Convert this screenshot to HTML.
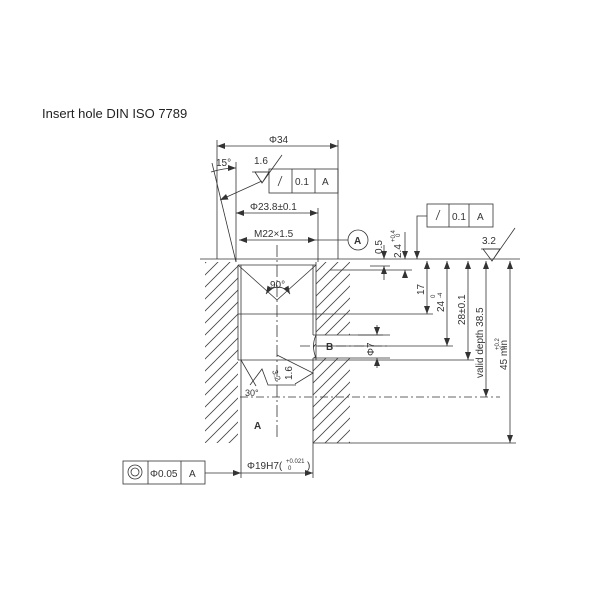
<!DOCTYPE html>
<html><head><style>body{margin:0;background:#fff}svg{display:block}</style></head><body>
<svg width="600" height="600" viewBox="0 0 600 600" xmlns="http://www.w3.org/2000/svg" font-family="Liberation Sans, sans-serif" fill="none" stroke="#333" stroke-width="0.8">
<defs>
<pattern id="h" patternUnits="userSpaceOnUse" width="12" height="12"><path d="M-1,1 L1,-1 M0,12 L12,0 M11,13 L13,11" stroke="#444" stroke-width="0.8"/></pattern>
<marker id="a" markerWidth="8" markerHeight="6" refX="8" refY="3" orient="auto-start-reverse" markerUnits="userSpaceOnUse"><path d="M0,0 L8,3 L0,6z" fill="#333" stroke="none"/></marker>
</defs>
<text x="42" y="118" font-size="13" fill="#222" stroke="none" font-family="Liberation Sans, DejaVu Sans, sans-serif">Insert hole DIN ISO 7789</text>
<path d="M205,262 H238 V443 H205 Z" fill="url(#h)" stroke="none"/>
<path d="M316,262 H350 V335 H313 V358 H350 V443 H313 V360 H316 Z" fill="url(#h)" stroke="none"/>
<line x1="200" y1="259" x2="520" y2="259"/>
<line x1="238" y1="265" x2="316" y2="265"/>
<line x1="238" y1="265" x2="238" y2="360"/><line x1="241" y1="265" x2="241" y2="360"/>
<line x1="316" y1="262" x2="316" y2="360"/><line x1="313" y1="265" x2="313" y2="335"/>
<line x1="238" y1="314" x2="316" y2="314"/>
<line x1="238" y1="360" x2="316" y2="360"/>
<line x1="241" y1="360" x2="241" y2="478"/><line x1="313" y1="358" x2="313" y2="478"/>
<line x1="313" y1="443" x2="350" y2="443"/>
<path d="M238,265 L277,300 L316,265"/>
<path d="M266,294 A14,14 0 0 1 290,294" marker-start="url(#a)" marker-end="url(#a)"/>
<text x="270" y="288" font-size="10" fill="#333" stroke="none">90°</text>
<line x1="313" y1="335" x2="390" y2="335"/><line x1="313" y1="358" x2="390" y2="358"/>
<path d="M316,335 Q311,346 316,358"/>
<line x1="300" y1="346" x2="390" y2="346" stroke-dasharray="10,3,2,3"/>
<text x="326" y="350" font-size="10" font-weight="bold" fill="#333" stroke="none">B</text>
<line x1="277" y1="245" x2="277" y2="440" stroke-dasharray="12,3,2,3"/>
<line x1="240" y1="397" x2="500" y2="397" stroke-dasharray="8,3,2,3"/>
<text x="254" y="429" font-size="10" font-weight="bold" fill="#333" stroke="none">A</text>
<path d="M241,360 L256,386"/>
<path d="M250,385 L262,369 L268,385 L296,385"/>
<path d="M277,355 L313,373 L295,384"/>
<text x="245" y="396" font-size="9" fill="#333" stroke="none">30°</text>
<text transform="translate(292,380) rotate(-90)" font-size="10" fill="#333" stroke="none">1.6</text>
<text transform="translate(272,371) rotate(70)" font-size="8" fill="#333" stroke="none">3.2</text>
<line x1="217" y1="140" x2="217" y2="259"/><line x1="338" y1="140" x2="338" y2="259"/>
<line x1="217" y1="146" x2="338" y2="146" marker-start="url(#a)" marker-end="url(#a)"/>
<text x="269" y="143" font-size="10" fill="#333" stroke="none">Φ34</text>
<line x1="212" y1="163" x2="236" y2="262"/>
<line x1="236" y1="162" x2="236" y2="262"/>
<path d="M211,172 Q224,168 236,168" marker-end="url(#a)"/>
<text x="216" y="166" font-size="10" fill="#333" stroke="none">15°</text>
<line x1="318" y1="208" x2="318" y2="262"/>
<line x1="236" y1="213" x2="318" y2="213" marker-start="url(#a)" marker-end="url(#a)"/>
<text x="250" y="210" font-size="10" fill="#333" stroke="none">Φ23.8±0.1</text>
<line x1="239" y1="240" x2="316" y2="240" marker-start="url(#a)" marker-end="url(#a)"/>
<line x1="316" y1="240" x2="348" y2="240"/>
<text x="254" y="237" font-size="10" fill="#333" stroke="none">M22×1.5</text>
<circle cx="358" cy="240" r="10"/>
<text x="354" y="244" font-size="10" font-weight="bold" fill="#333" stroke="none">A</text>
<rect x="269" y="169" width="69" height="24"/>
<line x1="292" y1="169" x2="292" y2="193"/><line x1="315" y1="169" x2="315" y2="193"/>
<line x1="278" y1="186" x2="282" y2="176"/>
<text x="295" y="185" font-size="10" fill="#333" stroke="none">0.1</text>
<text x="322" y="185" font-size="10" fill="#333" stroke="none">A</text>
<path d="M255,172 L262,183 L269,172 Z M262,183 L282,155"/>
<line x1="252" y1="172" x2="269" y2="172"/>
<text x="254" y="164" font-size="10" fill="#333" stroke="none">1.6</text>
<line x1="262" y1="181" x2="220" y2="200" marker-end="url(#a)"/>
<rect x="427" y="204" width="66" height="23"/>
<line x1="449" y1="204" x2="449" y2="227"/><line x1="469" y1="204" x2="469" y2="227"/>
<line x1="436" y1="220" x2="440" y2="210"/>
<text x="452" y="220" font-size="10" fill="#333" stroke="none">0.1</text>
<text x="477" y="220" font-size="10" fill="#333" stroke="none">A</text>
<path d="M427,216 H417 V259" marker-end="url(#a)"/>
<path d="M483,249 L492,261 L500,249 Z M492,261 L515,228"/>
<line x1="481" y1="249" x2="500" y2="249"/>
<text x="482" y="244" font-size="10" fill="#333" stroke="none">3.2</text>
<line x1="370" y1="266" x2="390" y2="266"/>
<line x1="384" y1="245" x2="384" y2="259" marker-end="url(#a)"/>
<line x1="384" y1="280" x2="384" y2="266" marker-end="url(#a)"/>
<text transform="translate(382,254) rotate(-90)" font-size="10" fill="#333" stroke="none">0.5</text>
<line x1="330" y1="270" x2="412" y2="270"/>
<line x1="405" y1="232" x2="405" y2="259" marker-end="url(#a)"/>
<line x1="405" y1="278" x2="405" y2="270" marker-end="url(#a)"/>
<text transform="translate(401,258) rotate(-90)" font-size="10" fill="#333" stroke="none">2.4</text>
<text transform="translate(395,242) rotate(-90)" font-size="6" fill="#333" stroke="none">+0.4</text>
<text transform="translate(400,237) rotate(-90)" font-size="6" fill="#333" stroke="none">0</text>
<line x1="316" y1="314" x2="433" y2="314"/>
<line x1="427" y1="261" x2="427" y2="314" marker-start="url(#a)" marker-end="url(#a)"/>
<text transform="translate(424,295) rotate(-90)" font-size="10" fill="#333" stroke="none">17</text>
<line x1="316" y1="346" x2="453" y2="346"/>
<line x1="447" y1="261" x2="447" y2="346" marker-start="url(#a)" marker-end="url(#a)"/>
<text transform="translate(444,312) rotate(-90)" font-size="10" fill="#333" stroke="none">24</text>
<text transform="translate(435,298) rotate(-90)" font-size="6" fill="#333" stroke="none">0</text>
<text transform="translate(442,298) rotate(-90)" font-size="6" fill="#333" stroke="none">-4</text>
<line x1="316" y1="360" x2="474" y2="360"/>
<line x1="468" y1="261" x2="468" y2="360" marker-start="url(#a)" marker-end="url(#a)"/>
<text transform="translate(465,325) rotate(-90)" font-size="10" fill="#333" stroke="none">28±0.1</text>
<line x1="486" y1="261" x2="486" y2="397" marker-start="url(#a)" marker-end="url(#a)"/>
<text transform="translate(483,378) rotate(-90)" font-size="10" fill="#333" stroke="none">valid depth 38.5</text>
<line x1="350" y1="443" x2="516" y2="443"/>
<line x1="510" y1="261" x2="510" y2="443" marker-start="url(#a)" marker-end="url(#a)"/>
<text transform="translate(507,370) rotate(-90)" font-size="10" fill="#333" stroke="none">45     min</text>
<text transform="translate(499,350) rotate(-90)" font-size="6" fill="#333" stroke="none">+0.2</text>
<text transform="translate(505,350) rotate(-90)" font-size="6" fill="#333" stroke="none">0</text>
<line x1="358" y1="335" x2="383" y2="335"/>
<line x1="377" y1="325" x2="377" y2="335" marker-end="url(#a)"/>
<line x1="377" y1="368" x2="377" y2="358" marker-end="url(#a)"/>
<text transform="translate(374,356) rotate(-90)" font-size="10" fill="#333" stroke="none">Φ7</text>
<rect x="123" y="461" width="82" height="23"/>
<line x1="148" y1="461" x2="148" y2="484"/><line x1="181" y1="461" x2="181" y2="484"/>
<circle cx="135" cy="472" r="7"/><circle cx="135" cy="472" r="4"/>
<text x="150" y="477" font-size="10" fill="#333" stroke="none">Φ0.05</text>
<text x="189" y="477" font-size="10" fill="#333" stroke="none">A</text>
<line x1="205" y1="473" x2="241" y2="473" marker-end="url(#a)"/>
<line x1="241" y1="473" x2="313" y2="473" marker-end="url(#a)"/>
<text x="247" y="469" font-size="10" fill="#333" stroke="none">Φ19H7(</text>
<text x="286" y="463" font-size="6" fill="#333" stroke="none">+0.021</text>
<text x="288" y="470" font-size="6" fill="#333" stroke="none">0</text>
<text x="307" y="469" font-size="10" fill="#333" stroke="none">)</text>
</svg>
</body></html>
